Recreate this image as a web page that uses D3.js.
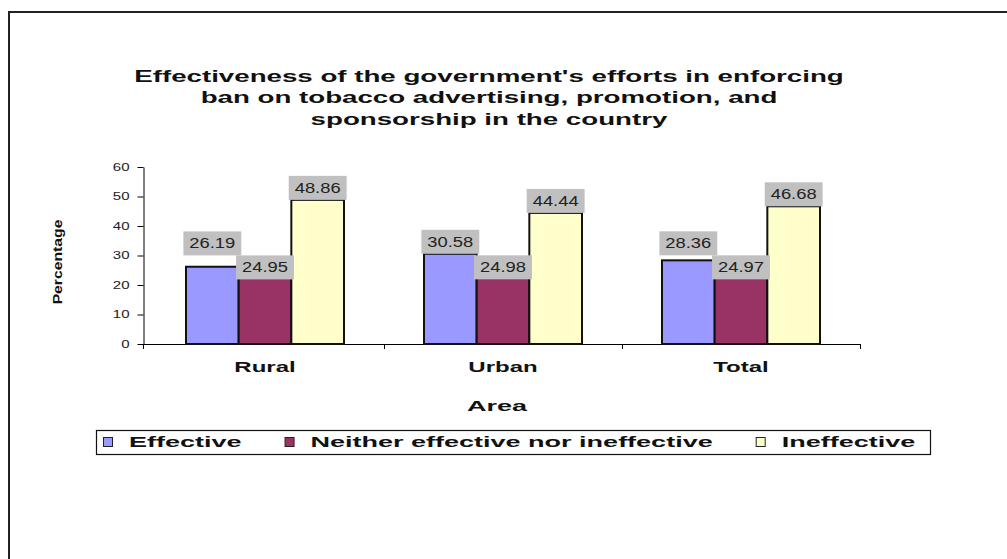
<!DOCTYPE html>
<html><head><meta charset="utf-8">
<script src="https://cdn.jsdelivr.net/npm/d3@7"></script>
<style>
body{margin:0;background:#fff}
svg{display:block}
text{font-family:"Liberation Sans",Arial,Helvetica,sans-serif}
</style>
</head><body>
<svg id="chart" width="1007" height="559"></svg>
<script>
// ---------- data ----------
const titleLines = [
  "Effectiveness of the government's efforts in enforcing",
  "ban on tobacco advertising, promotion, and",
  "sponsorship in the country"
];
const categories = ["Rural", "Urban", "Total"];
const seriesNames = ["Effective", "Neither effective nor ineffective", "Ineffective"];
const effective = [26.19, 30.58, 28.36];
const neither = [24.95, 24.98, 24.97];
const ineffective = [48.86, 44.44, 46.68];
const yTicks = [0, 10, 20, 30, 40, 50, 60];
const xTitle = "Area";
const yTitle = "Percentage";

// ---------- styles ----------
const colors = ["#9999FF", "#993366", "#FFFFCC"];
const seriesValues = [effective, neither, ineffective];
const labelLift = [12, 3, 12];

const svg = d3.select("#chart");
svg.append("rect").attr("width", 1007).attr("height", 559).attr("fill", "#fff");

// outer frame
svg.append("rect").attr("x", 9).attr("y", 12).attr("width", 1010).attr("height", 560)
  .attr("fill", "none").attr("stroke", "#222").attr("stroke-width", 2);

function stretch(sel, k) {
  sel.each(function () {
    const w = this.getComputedTextLength();
    this.setAttribute("textLength", w * k);
    this.setAttribute("lengthAdjust", "spacingAndGlyphs");
  });
}

// title
const title = svg.append("g").selectAll("text").data(titleLines).join("text")
  .attr("x", 489).attr("y", (d, i) => 81.5 + i * 21.7)
  .attr("text-anchor", "middle").attr("font-weight", "bold").attr("font-size", 16)
  .attr("fill", "#111").text(d => d);
stretch(title, 1.73);

// scales
const y = d3.scaleLinear().domain([0, 60]).range([344, 167]);
const x0 = d3.scaleBand().domain(categories).range([146, 860]).padding(0);
const groupW = 158;
const x1 = d3.scaleBand().domain(seriesNames)
  .range([(x0.bandwidth() - groupW) / 2, (x0.bandwidth() + groupW) / 2]).padding(0);

// y axis
const yAxis = svg.append("g").attr("transform", "translate(143.5,0)")
  .call(d3.axisLeft(y).tickValues(yTicks).tickSize(6).tickPadding(8).tickSizeOuter(0));
yAxis.select(".domain").attr("stroke", "#000");
yAxis.selectAll(".tick line").attr("stroke", "#000");
const yt = yAxis.selectAll(".tick text").attr("font-size", 10).attr("fill", "#222")
  .attr("font-family", "\"Liberation Sans\",Arial,sans-serif");
stretch(yt, 1.5);

// x axis line and boundary ticks
const xr = x0.range();
svg.append("line").attr("x1", 143).attr("x2", xr[1]).attr("y1", 344.5).attr("y2", 344.5)
  .attr("stroke", "#000");
const boundaries = [143].concat(categories.slice(1).map(c => x0(c)), [xr[1]]);
svg.append("g").selectAll("line").data(boundaries).join("line")
  .attr("x1", d => Math.round(d) + 0.5).attr("x2", d => Math.round(d) + 0.5)
  .attr("y1", 344).attr("y2", 349).attr("stroke", "#000");

// category labels
const cl = svg.append("g").selectAll("text").data(categories).join("text")
  .attr("x", d => x0(d) + x0.bandwidth() / 2).attr("y", 372)
  .attr("text-anchor", "middle").attr("font-weight", "bold").attr("font-size", 15)
  .attr("fill", "#111").text(d => d);
stretch(cl, 1.6);

// bars
const barData = [];
categories.forEach((c, ci) => {
  seriesNames.forEach((s, si) => {
    barData.push({c, s, si, ci, v: seriesValues[si][ci]});
  });
});
svg.append("g").selectAll("rect").data(barData).join("rect")
  .attr("x", d => x0(d.c) + x1(d.s))
  .attr("y", d => y(d.v))
  .attr("width", x1.bandwidth())
  .attr("height", d => y(0) - y(d.v))
  .attr("fill", d => colors[d.si])
  .attr("stroke", "#111").attr("stroke-width", 2);

// data labels
const boxH = 24;
barData.forEach(d => { d.cy = y(d.v) - labelLift[d.si]; d.cx = x0(d.c) + x1(d.s) + x1.bandwidth() / 2; });
// avoid overlap of first series label with second series label
categories.forEach((c, ci) => {
  const a = barData.find(d => d.ci === ci && d.si === 0);
  const b = barData.find(d => d.ci === ci && d.si === 1);
  if (a.cy + boxH / 2 > b.cy - boxH / 2) a.cy = b.cy - boxH;
});
const lg = svg.append("g").selectAll("g").data(barData).join("g");
const lbox = lg.append("rect").attr("fill", "#C0C0C0");
const ltxt = lg.append("text").attr("x", d => d.cx).attr("y", d => d.cy + 5)
  .attr("text-anchor", "middle").attr("font-size", 14).attr("fill", "#222")
  .text(d => d.v.toFixed(2));
stretch(ltxt, 1.31);
ltxt.each(function (d) { d.tw = +this.getAttribute("textLength"); });
lbox.attr("x", d => d.cx - (d.tw + 12) / 2).attr("y", d => d.cy - boxH / 2)
  .attr("width", d => d.tw + 12).attr("height", boxH);

// axis titles
const xt = svg.append("text").attr("x", 497).attr("y", 410.5).attr("text-anchor", "middle")
  .attr("font-weight", "bold").attr("font-size", 15).attr("fill", "#111").text(xTitle);
stretch(xt, 1.8);
const ytl = svg.append("text").attr("transform", "translate(62,262) rotate(-90)")
  .attr("text-anchor", "middle").attr("font-weight", "bold").attr("font-size", 12)
  .attr("fill", "#111").text(yTitle);
stretch(ytl, 1.31);

// legend
const legend = svg.append("g");
legend.append("rect").attr("x", 96.5).attr("y", 430.5).attr("width", 834).attr("height", 24)
  .attr("fill", "#fff").attr("stroke", "#111").attr("stroke-width", 1.2);
let lx = 103;
seriesNames.forEach((s, i) => {
  legend.append("rect").attr("x", lx + 0.5).attr("y", 437.5).attr("width", 9).attr("height", 9)
    .attr("fill", colors[i]).attr("stroke", "#222").attr("stroke-width", 1);
  const t = legend.append("text").attr("x", lx + 26).attr("y", 447)
    .attr("font-weight", "bold").attr("font-size", 15).attr("fill", "#111").text(s);
  stretch(t, 1.8);
  lx = lx + 26 + (+t.attr("textLength")) + 43;
});
</script>
</body></html>
